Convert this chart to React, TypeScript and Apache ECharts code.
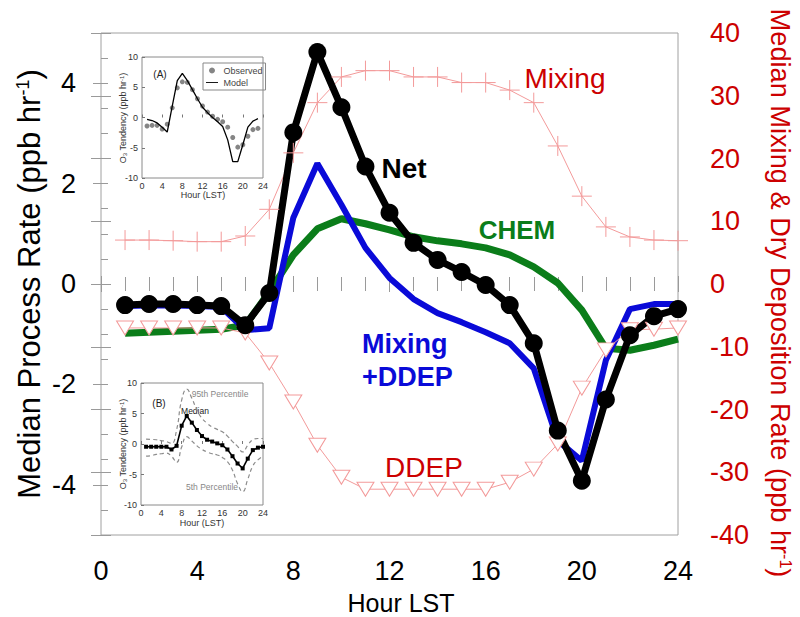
import React, { useEffect, useRef } from "react";
import * as echarts from "echarts";

const FONT = "'Liberation Sans', Arial, Helvetica, sans-serif";

// ---------- main panel data (hour of day, LST) ----------
const hours = [1, 2, 3, 4, 5, 6, 7, 8, 9, 10, 11, 12, 13, 14, 15, 16, 17, 18, 19, 20, 21, 22, 23, 24];
// left axis (ppb/hr)
const netRate = [-0.42, -0.4, -0.4, -0.42, -0.44, -0.82, -0.18, 3.02, 4.62, 3.52, 2.34, 1.42, 0.82, 0.48, 0.24, -0.02, -0.42, -1.18, -2.92, -3.92, -2.3, -1.02, -0.64, -0.5];
const mixingDdepRate = [-0.44, -0.43, -0.43, -0.44, -0.46, -0.92, -0.88, 1.32, 2.4, 1.58, 0.72, 0.12, -0.3, -0.58, -0.76, -0.96, -1.18, -1.68, -3.12, -3.52, -1.52, -0.5, -0.4, -0.4];
const chemRate = [-0.98, -0.96, -0.94, -0.92, -0.9, -0.82, -0.16, 0.58, 1.1, 1.3, 1.2, 1.08, 0.94, 0.86, 0.8, 0.72, 0.58, 0.34, 0.02, -0.52, -1.28, -1.32, -1.22, -1.1];
// right axis (ppb/hr)
const mixingRate = [7.0, 7.0, 6.9, 6.75, 6.75, 7.65, 11.9, 20.9, 28.9, 33.0, 34.0, 34.0, 33.0, 33.0, 32.1, 32.1, 30.9, 28.9, 22.0, 14.0, 9.1, 7.5, 7.0, 6.9];
const ddepRate = [-7.0, -7.0, -7.0, -7.0, -7.0, -7.8, -12.6, -18.8, -25.7, -30.8, -32.7, -32.7, -32.7, -32.7, -32.7, -32.7, -31.6, -29.5, -25.5, -16.6, -10.5, -7.3, -7.2, -7.0];
const leftTickValues = [-4, -2, 0, 2, 4];

// ---------- inset A ----------
const insetHoursA = [1, 2, 3, 4, 5, 6, 7, 8, 9, 10, 11, 12, 13, 14, 15, 16, 17, 18, 19, 20, 21, 22, 23];
const modelTendency = [-0.3, -0.5, -0.9, -1.6, -2.4, 1.9, 6.1, 7.3, 6.1, 4.6, 3.1, 1.7, 0.8, 0.0, -0.7, -1.5, -3.7, -7.3, -7.3, -4.5, -1.6, -0.6, -0.2];
const observedTendency = [-1.4, -1.3, -1.3, -1.9, -1.1, 1.6, 4.9, 5.9, 5.8, 4.6, 3.1, 1.9, 0.9, 0.2, -0.3, -0.7, -1.6, -3.3, -4.9, -4.5, -3.1, -2.0, -1.8];

// ---------- inset B ----------
const medianTendency = [-0.45, -0.45, -0.45, -0.45, -0.45, -0.9, -0.3, 3.0, 4.6, 3.5, 2.3, 1.3, 0.7, 0.4, 0.1, -0.2, -0.9, -2.0, -3.2, -4.0, -2.4, -1.0, -0.6, -0.45];
const p95Tendency = [0.8, 0.75, 0.7, 0.55, 0.4, 0.1, 2.3, 7.2, 9.0, 7.5, 5.6, 4.2, 3.4, 2.8, 2.4, 2.0, 1.3, 0.4, -0.4, -1.3, -0.2, 0.7, 0.9, 0.9];
const p5Tendency = [-2.0, -1.9, -1.7, -1.6, -1.5, -2.0, -3.0, -0.5, 1.2, 0.5, -0.3, -0.9, -1.3, -1.6, -1.8, -2.2, -2.9, -4.3, -6.5, -7.8, -5.8, -3.6, -2.6, -2.0];

const pairs = (xs: number[], ys: number[]) => xs.map((x, i) => [x, ys[i]]);

const RED = "#cc0000";
const PINK = "#f39a9a";
const GREEN = "#0b7d1a";
const BLUE = "#0a0ad8";
const tickStyle = { color: "#9a9a9a", width: 1 };

function buildOption() {
  const mainX = { type: "value", min: 0, max: 24, splitLine: { show: false }, axisLine: { show: false } };
  const mainY = { type: "value", min: -5, max: 5, splitLine: { show: false }, axisLine: { show: false } };
  const rightY = { type: "value", min: -40, max: 40, interval: 10, splitLine: { show: false }, axisLine: { show: false } };
  const insetX = (g: number) => ({
    type: "value", gridIndex: g, min: 0, max: 24, interval: 4,
    splitLine: { show: false }, axisLine: { show: false },
    axisTick: { show: true, inside: true, length: 3, lineStyle: { color: "#777" } },
    axisLabel: { fontSize: 9, color: "#333", margin: 3, fontFamily: FONT },
  });
  const insetY = (g: number) => ({
    type: "value", gridIndex: g, min: -10, max: 10, interval: 5,
    splitLine: { show: false }, axisLine: { show: false },
    axisTick: { show: true, inside: true, length: 3, lineStyle: { color: "#777" } },
    axisLabel: { fontSize: 9, color: "#333", margin: 4, fontFamily: FONT },
  });

  const txt = (x: number, y: number, text: string, extra: any = {}, rest: any = {}) => ({
    type: "text", x, y, silent: true, ...rest,
    style: { text, fontFamily: FONT, align: "center", verticalAlign: "middle", fill: "#000", ...extra },
  });

  return {
    animation: false,
    backgroundColor: "#ffffff",
    grid: [
      { left: 101, top: 33, width: 577, height: 502, show: true, borderColor: "#a0a0a0", borderWidth: 1, backgroundColor: "transparent" },
      { left: 101, top: 33, width: 577, height: 502 },
      { left: 142, top: 57, width: 121, height: 121, show: true, borderColor: "#8a8a8a", borderWidth: 1, backgroundColor: "transparent" },
      { left: 141, top: 383, width: 122, height: 122, show: true, borderColor: "#8a8a8a", borderWidth: 1, backgroundColor: "transparent" },
    ],
    xAxis: [
      { ...mainX, gridIndex: 0, position: "bottom", interval: 4,
        axisTick: { show: true, inside: false, length: 8, lineStyle: tickStyle },
        axisLabel: { fontSize: 27, color: "#000", margin: 22, fontFamily: FONT } },
      { ...mainX, gridIndex: 0, position: "top", interval: 4,
        axisTick: { show: true, inside: false, length: 8, lineStyle: tickStyle }, axisLabel: { show: false } },
      { ...mainX, gridIndex: 1, position: "bottom", interval: 1,
        axisTick: { show: true, inside: true, length: 7, lineStyle: tickStyle }, axisLabel: { show: false } },
      { ...mainX, gridIndex: 1, position: "top", interval: 1,
        axisTick: { show: true, inside: true, length: 7, lineStyle: tickStyle }, axisLabel: { show: false } },
      insetX(2),
      insetX(3),
    ],
    yAxis: [
      { ...mainY, gridIndex: 0, position: "left", interval: 1,
        axisTick: { show: true, inside: false, length: 8, lineStyle: tickStyle, customValues: leftTickValues },
        axisLabel: { fontSize: 27, color: "#000", margin: 25, fontFamily: FONT, customValues: leftTickValues } },
      { ...rightY, gridIndex: 0, position: "right",
        axisTick: { show: true, inside: false, length: 10, lineStyle: tickStyle },
        axisLabel: { fontSize: 27, color: RED, margin: 32, fontFamily: FONT } },
      { ...mainY, gridIndex: 1, position: "left", interval: 0.5,
        axisTick: { show: true, inside: true, length: 7, lineStyle: tickStyle }, axisLabel: { show: false } },
      { ...rightY, gridIndex: 1, position: "right",
        axisTick: { show: true, inside: true, length: 10, lineStyle: tickStyle }, axisLabel: { show: false } },
      insetY(2),
      insetY(3),
    ],
    legend: {
      data: [
        { name: "Observed", icon: "circle" },
        { name: "Model", icon: "path://M0,0M0,4.3L20,4.3L20,5.8L0,5.8ZM20,10" },
      ],
      left: 203, top: 63, orient: "vertical", selectedMode: false,
      itemWidth: 13, itemHeight: 6, itemGap: 3, padding: [3, 3, 3, 3],
      borderColor: "#888", borderWidth: 1,
      textStyle: { fontSize: 9, color: "#444", fontFamily: FONT },
    },
    series: [
      { name: "CHEM", type: "line", xAxisIndex: 0, yAxisIndex: 0, data: pairs(hours, chemRate), symbol: "none", silent: true,
        lineStyle: { color: GREEN, width: 7 }, itemStyle: { color: GREEN } },
      { name: "Mixing+DDEP", type: "line", xAxisIndex: 0, yAxisIndex: 0, data: pairs(hours, mixingDdepRate), symbol: "none", silent: true,
        lineStyle: { color: BLUE, width: 6 }, itemStyle: { color: BLUE } },
      { name: "Mixing", type: "line", xAxisIndex: 0, yAxisIndex: 1, data: pairs(hours, mixingRate), silent: true,
        symbol: "path://M0,10L20,10M10,0L10,20", symbolSize: 20,
        lineStyle: { color: PINK, width: 1 }, itemStyle: { color: PINK, borderColor: PINK, borderWidth: 1 } },
      { name: "DDEP", type: "line", xAxisIndex: 0, yAxisIndex: 1, data: pairs(hours, ddepRate), silent: true,
        symbol: "triangle", symbolRotate: 180, symbolSize: [17, 14],
        lineStyle: { color: PINK, width: 1 }, itemStyle: { color: "#ffffff", borderColor: PINK, borderWidth: 1 } },
      { name: "Net", type: "line", xAxisIndex: 0, yAxisIndex: 0, data: pairs(hours, netRate), silent: true,
        symbol: "circle", symbolSize: 18,
        lineStyle: { color: "#000", width: 7 }, itemStyle: { color: "#000" } },
      { name: "Observed", type: "scatter", xAxisIndex: 4, yAxisIndex: 4, data: pairs(insetHoursA, observedTendency), silent: true,
        symbolSize: 5, itemStyle: { color: "#666" } },
      { name: "Model", type: "line", xAxisIndex: 4, yAxisIndex: 4, data: pairs(insetHoursA, modelTendency), silent: true,
        symbol: "none", lineStyle: { color: "#000", width: 1.3 }, itemStyle: { color: "#000" } },
      { name: "95th Percentile", type: "line", xAxisIndex: 5, yAxisIndex: 5, data: pairs(hours, p95Tendency), silent: true,
        symbol: "none", smooth: true, lineStyle: { color: "#8c8c8c", width: 1.2, type: [4, 3] } },
      { name: "5th Percentile", type: "line", xAxisIndex: 5, yAxisIndex: 5, data: pairs(hours, p5Tendency), silent: true,
        symbol: "none", smooth: true, lineStyle: { color: "#8c8c8c", width: 1.2, type: [4, 3] } },
      { name: "Median", type: "line", xAxisIndex: 5, yAxisIndex: 5, data: pairs(hours, medianTendency), silent: true,
        symbol: "rect", symbolSize: 4, lineStyle: { color: "#000", width: 1.6 }, itemStyle: { color: "#000" } },
    ],
    graphic: [
      // axis titles
      txt(29, 284, "Median Process Rate (ppb hr{sup|-1})",
        { fontSize: 31, rich: { sup: { fontSize: 18, lineHeight: 18, verticalAlign: "top", fontFamily: FONT, fill: "#000" } } },
        { rotation: Math.PI / 2 }),
      txt(780, 293, "Median Mixing & Dry Deposition Rate (ppb hr{sup|-1})",
        { fontSize: 27.2, fill: RED, rich: { sup: { fontSize: 16, lineHeight: 16, verticalAlign: "top", fontFamily: FONT, fill: RED } } },
        { rotation: -Math.PI / 2 }),
      txt(401, 603, "Hour LST", { fontSize: 25 }),
      // series annotations
      txt(404, 168, "Net", { fontSize: 28, fontWeight: "bold" }),
      txt(517, 230, "CHEM", { fontSize: 26, fontWeight: "bold", fill: GREEN }),
      txt(362, 360, "Mixing\n+DDEP", { fontSize: 27, fontWeight: "bold", fill: BLUE, align: "left", lineHeight: 33 }),
      txt(565, 78, "Mixing", { fontSize: 28, fill: RED }),
      txt(424, 467, "DDEP", { fontSize: 28, fill: RED }),
      // inset A texts
      txt(160, 74, "(A)", { fontSize: 10, fill: "#222" }),
      txt(203, 195, "Hour (LST)", { fontSize: 9, fill: "#333" }),
      txt(123, 118, "O{sub|3} Tendency (ppb hr{sup|-1})",
        { fontSize: 9, fill: "#333", rich: { sub: { fontSize: 6, lineHeight: 6, verticalAlign: "bottom", fill: "#333", fontFamily: FONT }, sup: { fontSize: 6, lineHeight: 6, verticalAlign: "top", fill: "#333", fontFamily: FONT } } },
        { rotation: Math.PI / 2 }),
      // inset B texts
      txt(159, 403, "(B)", { fontSize: 10, fill: "#222" }),
      txt(220, 394, "95th Percentile", { fontSize: 8.5, fill: "#888" }),
      txt(195, 411, "Median", { fontSize: 8.5, fill: "#222" }),
      txt(212, 487, "5th Percentile", { fontSize: 8.5, fill: "#888" }),
      txt(202, 523, "Hour (LST)", { fontSize: 9, fill: "#333" }),
      txt(123, 444, "O{sub|3} Tendency (ppb hr{sup|-1})",
        { fontSize: 9, fill: "#333", rich: { sub: { fontSize: 6, lineHeight: 6, verticalAlign: "bottom", fill: "#333", fontFamily: FONT }, sup: { fontSize: 6, lineHeight: 6, verticalAlign: "top", fill: "#333", fontFamily: FONT } } },
        { rotation: Math.PI / 2 }),
    ],
  };
}

export default function App() {
  const ref = useRef<HTMLDivElement>(null);
  useEffect(() => {
    if (!ref.current) return;
    const chart = echarts.init(ref.current, undefined, { renderer: "svg" });
    chart.setOption(buildOption() as any);
    return () => chart.dispose();
  }, []);
  return (
    <div
      ref={ref}
      style={{ position: "fixed", left: 0, top: 0, width: 800, height: 617, background: "#fff" }}
    />
  );
}
